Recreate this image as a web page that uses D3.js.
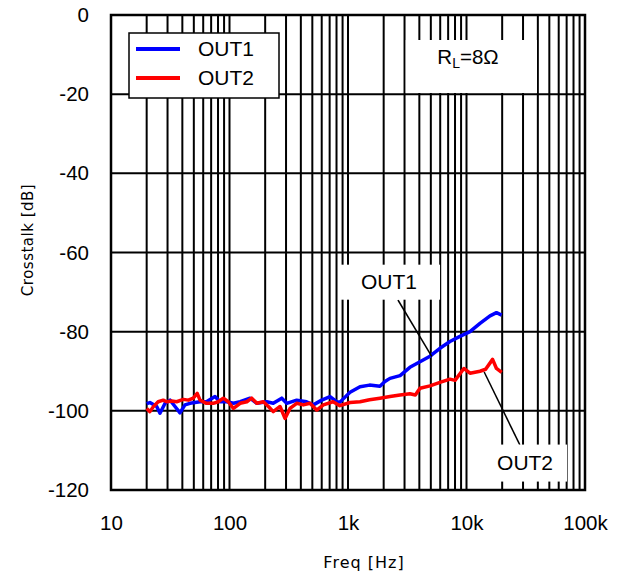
<!DOCTYPE html>
<html>
<head>
<meta charset="utf-8">
<script src="https://cdn.jsdelivr.net/npm/d3@7"></script>
<style>
  body { margin: 0; background: #fff; }
  svg text { font-family: "Liberation Sans", Arial, sans-serif; }
</style>
</head>
<body>
<div id="chart"></div>
<script>
var freq1 = [20, 21.3, 24.3, 25.9, 28.6, 31.5, 34.7, 38.2, 42.1, 46.4, 56.4, 63.9, 75.4, 83.2, 94.6,
  108, 123, 149, 170, 206, 234, 276, 304, 369, 447, 510, 600, 705, 802, 855,
  1040, 1263, 1520, 1860, 2050, 2260, 2750, 3330, 4050, 4920, 5970, 7250, 8800, 10700, 13000, 15800, 17900, 19800];
var out1 = [-98.2, -97.9, -98.9, -100.6, -98.1, -97.3, -98.9, -100.5, -98.5, -98.1, -97.7, -97.7, -96.4, -97.7, -97.7,
  -98.1, -97.7, -96.8, -98.1, -97.7, -98.1, -96.8, -98.1, -97.3, -97.7, -98.5, -97.3, -96.4, -97.7, -97.8,
  -95.3, -93.9, -93.5, -93.8, -92.6, -91.8, -91.1, -89.0, -87.6, -86.2, -84.2, -82.5, -81.2, -80.0, -77.9, -76.0, -75.2, -75.8];

var freq2 = [20, 21.3, 22.7, 25, 27.6, 29.5, 32.5, 35.8, 40.8, 44.9, 49.5, 53.4, 56.4, 63.9, 73, 80.3, 88.7, 97.7,
  108, 123, 140, 154, 170, 193, 213, 234, 267, 294, 324, 369, 420, 478, 544, 620, 747, 855,
  1040, 1263, 1520, 1860, 2260, 2750, 3330, 3700, 4050, 4920, 5970, 7250, 8000, 9500, 10700, 13000, 14500, 16600, 17900, 19800];
var out2 = [-99.4, -100.2, -99.0, -97.7, -97.3, -97.7, -97.5, -97.7, -97.1, -97.3, -96.8, -95.6, -97.3, -98.1, -98.1, -97.7, -96.8, -97.7,
  -99.4, -98.1, -97.7, -96.8, -98.1, -97.7, -98.9, -100.2, -98.9, -101.9, -99.4, -98.1, -98.5, -98.1, -99.8, -98.5, -97.7, -98.7,
  -97.9, -97.7, -97.2, -96.8, -96.4, -96.0, -95.7, -96.0, -94.3, -93.7, -92.8, -92.0, -92.3, -89.3, -90.5, -90.0, -89.5, -87.0, -89.3, -90.3];

var xTicks = [10, 100, 1000, 10000, 100000];
var xTickLabels = ["10", "100", "1k", "10k", "100k"];
var yTicks = [0, -20, -40, -60, -80, -100, -120];
var seriesNames = ["OUT1", "OUT2"];
var seriesColors = ["#0000ff", "#ff0000"];

var W = 629, H = 577;
var margin = {top: 15, right: 44, bottom: 87, left: 111},
    width = W - margin.left - margin.right,
    height = H - margin.top - margin.bottom;

var svg = d3.select("#chart").append("svg")
    .attr("width", W)
    .attr("height", H);

var x = d3.scaleLog().domain([10, 100000]).range([margin.left, margin.left + width]);
var y = d3.scaleLinear().domain([-120, 0]).range([margin.top + height, margin.top]);

// grid
var minor = [];
for (var d = 10; d < 100000; d *= 10) {
    for (var m = 1; m < 10; m++) minor.push(d * m);
}
minor.push(100000);

svg.append("g").selectAll("line")
    .data(minor)
  .enter().append("line")
    .attr("x1", function(d) { return x(d); })
    .attr("x2", function(d) { return x(d); })
    .attr("y1", y(0))
    .attr("y2", y(-120))
    .attr("stroke", "#000")
    .attr("stroke-width", 2);

svg.append("g").selectAll("line")
    .data(yTicks)
  .enter().append("line")
    .attr("x1", x(10))
    .attr("x2", x(100000))
    .attr("y1", function(d) { return y(d); })
    .attr("y2", function(d) { return y(d); })
    .attr("stroke", "#000")
    .attr("stroke-width", 2);

svg.append("rect")
    .attr("x", x(10)).attr("y", y(0))
    .attr("width", width).attr("height", height)
    .attr("fill", "none").attr("stroke", "#000").attr("stroke-width", 2.5);

// axes labels
var yAxis = svg.append("g")
    .attr("transform", "translate(" + margin.left + ",0)")
    .call(d3.axisLeft(y).tickValues(yTicks).tickSize(0).tickPadding(22)
        .tickFormat(function(d) { return String(d); }));
yAxis.select(".domain").remove();
yAxis.selectAll("text").style("font-size", "20.5px").style("font-family", "'Liberation Sans', Arial, sans-serif").attr("fill", "#000");

var xAxis = svg.append("g")
    .attr("transform", "translate(0," + (margin.top + height) + ")")
    .call(d3.axisBottom(x).tickValues(xTicks).tickSize(0).tickPadding(25)
        .tickFormat(function(d, i) { return xTickLabels[i]; }));
xAxis.select(".domain").remove();
xAxis.selectAll("text").style("font-size", "20.5px").style("font-family", "'Liberation Sans', Arial, sans-serif").attr("fill", "#000");

svg.append("text")
    .attr("x", 364).attr("y", 568)
    .attr("text-anchor", "middle")
    .style("font-family", "'DejaVu Sans', sans-serif")
    .style("font-size", "16px")
    .style("letter-spacing", "1px")
    .text("Freq [Hz]");

svg.append("text")
    .attr("transform", "translate(33,240) rotate(-90)")
    .attr("text-anchor", "middle")
    .style("font-family", "'DejaVu Sans', sans-serif")
    .style("font-size", "15px")
    .style("letter-spacing", "0.5px")
    .text("Crosstalk [dB]");

// data lines
var line = d3.line()
    .x(function(d) { return x(d[0]); })
    .y(function(d) { return y(d[1]); });

var series = [d3.zip(freq1, out1), d3.zip(freq2, out2)];

svg.selectAll(".series")
    .data(series)
  .enter().append("path")
    .attr("class", "series")
    .attr("d", line)
    .attr("fill", "none")
    .attr("stroke", function(d, i) { return seriesColors[i]; })
    .attr("stroke-width", 3.5)
    .attr("stroke-linejoin", "round");

// legend
var legend = svg.append("g");
legend.append("rect")
    .attr("x", 129).attr("y", 33).attr("width", 150).attr("height", 65)
    .attr("fill", "#fff").attr("stroke", "#000").attr("stroke-width", 1.5);
seriesNames.forEach(function(n, i) {
    var ly = 49 + i * 29;
    legend.append("line")
        .attr("x1", 136).attr("x2", 180).attr("y1", ly).attr("y2", ly)
        .attr("stroke", seriesColors[i]).attr("stroke-width", 4);
    legend.append("text")
        .attr("x", 198).attr("y", ly + 7)
        .style("font-size", "21px")
        .text(n);
});

// R_L label
svg.append("rect")
    .attr("x", 405).attr("y", 40).attr("width", 132).attr("height", 53)
    .attr("fill", "#fff");
svg.append("line")
    .attr("x1", 405.5).attr("x2", 405.5).attr("y1", 40).attr("y2", 93)
    .attr("stroke", "#999").attr("stroke-width", 1);
var rl = svg.append("text")
    .attr("x", 468).attr("y", 64)
    .attr("text-anchor", "middle")
    .style("font-size", "20.5px");
rl.append("tspan").text("R");
rl.append("tspan").attr("dy", 4).style("font-size", "14px").text("L");
rl.append("tspan").attr("dy", -4).text("=8\u03A9");

// callouts
var callouts = [
    {text: "OUT1", lf: 2220, lv: -67.5, bw: 102, bh: 35, ef: 2640, ev: -72, pf: 5100, pv: -86.3},
    {text: "OUT2", lf: 31200, lv: -113.2, bw: 84, bh: 37, ef: 28200, ev: -108.6, pf: 14100, pv: -90.2}
];

callouts.forEach(function(c) {
    svg.append("line")
        .attr("x1", x(c.ef)).attr("y1", y(c.ev))
        .attr("x2", x(c.pf)).attr("y2", y(c.pv))
        .attr("stroke", "#000").attr("stroke-width", 1.5);
    svg.append("rect")
        .attr("x", x(c.lf) - c.bw / 2).attr("y", y(c.lv) - c.bh / 2)
        .attr("width", c.bw).attr("height", c.bh)
        .attr("fill", "#fff");
    svg.append("text")
        .attr("x", x(c.lf)).attr("y", y(c.lv) + 7)
        .attr("text-anchor", "middle")
        .style("font-size", "21px")
        .text(c.text);
});
</script>
</body>
</html>
